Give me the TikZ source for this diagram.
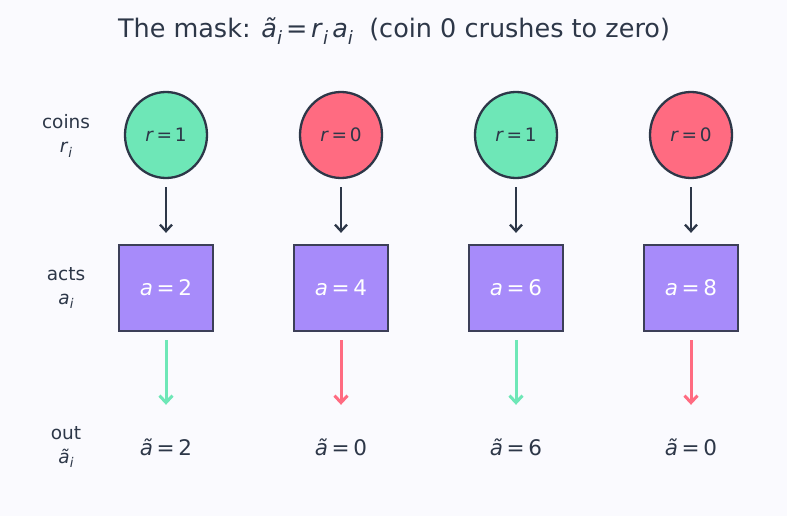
\documentclass[tikz,border=0pt]{standalone}
\usepackage{fontspec}
\setmainfont{DejaVu Sans}
\usetikzlibrary{arrows.meta,shapes.geometric}
\definecolor{bg}{HTML}{FAFAFE}
\definecolor{ink}{HTML}{2D3748}
\definecolor{cgreen}{HTML}{6EE7B7}
\definecolor{cred}{HTML}{FF6B81}
\definecolor{apurple}{HTML}{A78BFA}
\definecolor{bborder}{HTML}{3C3F58}
\newcommand\mysub[1]{\raisebox{-0.25em}{\scalebox{0.72}{\textit{#1}}}}
\newcommand\myeq{\hspace{0.15em}=\hspace{0.15em}}
\tikzset{
  coin/.style={ellipse, draw=ink, line width=2.3pt, minimum width=82pt, minimum height=86pt, inner sep=0pt, text=ink, font=\fontsize{18.5}{22}\selectfont},
  actbox/.style={rectangle, draw=bborder, line width=2.3pt, fill=apurple, minimum width=94pt, minimum height=86pt, inner sep=0pt, text=white, font=\fontsize{21.5}{25}\selectfont},
  outlbl/.style={inner sep=0pt, minimum height=20pt, text=ink, font=\fontsize{21.5}{25}\selectfont},
  rowlbl/.style={align=center, text=ink, font=\fontsize{18.5}{24}\selectfont},
  darr/.style={draw=ink, line width=2.3pt, -{Straight Barb[length=6.5pt,width=12pt]}},
  carr/.style={line width=3pt, -{Straight Barb[length=7pt,width=13pt]}},
}
\begin{document}
\begin{tikzpicture}[x=1pt,y=-1pt]
\fill[bg] (0,0) rectangle (787,516);
\useasboundingbox (0,0) rectangle (787,516);
\node[text=ink, font=\fontsize{25.5}{30}\selectfont] (title) at (394,31) {The mask: \textit{ã}\mysub{i}\myeq\textit{r}\mysub{i}\,\textit{a}\mysub{i}\ \ (coin 0 crushes to zero)};

\node[rowlbl] (l1) at (66,136) {coins\\\textit{r}\mysub{i}};
\node[rowlbl] (l2) at (66,288) {acts\\\textit{a}\mysub{i}};
\node[rowlbl] (l3) at (66,447) {out\\\textit{ã}\mysub{i}};

\node[coin, fill=cgreen] (c1) at (166,135) {\textit{r}\myeq 1};
\node[coin, fill=cred] (c2) at (341,135) {\textit{r}\myeq 0};
\node[coin, fill=cgreen] (c3) at (516,135) {\textit{r}\myeq 1};
\node[coin, fill=cred] (c4) at (691,135) {\textit{r}\myeq 0};

\node[actbox] (b1) at (166,288) {\textit{a}\,=\,2};
\node[actbox] (b2) at (341,288) {\textit{a}\,=\,4};
\node[actbox] (b3) at (516,288) {\textit{a}\,=\,6};
\node[actbox] (b4) at (691,288) {\textit{a}\,=\,8};

\node[outlbl] (o1) at (166,447) {\textit{ã}\,=\,2};
\node[outlbl] (o2) at (341,447) {\textit{ã}\,=\,0};
\node[outlbl] (o3) at (516,447) {\textit{ã}\,=\,6};
\node[outlbl] (o4) at (691,447) {\textit{ã}\,=\,0};

\foreach \i in {1,2,3,4} {
  \draw[darr] ([yshift=-8pt]c\i.south) -- ([yshift=11pt]b\i.north);
}
\draw[carr, draw=cgreen] ([yshift=-8pt]b1.south) -- ([yshift=32pt]o1.north);
\draw[carr, draw=cred] ([yshift=-8pt]b2.south) -- ([yshift=32pt]o2.north);
\draw[carr, draw=cgreen] ([yshift=-8pt]b3.south) -- ([yshift=32pt]o3.north);
\draw[carr, draw=cred] ([yshift=-8pt]b4.south) -- ([yshift=32pt]o4.north);
\end{tikzpicture}
\end{document}
